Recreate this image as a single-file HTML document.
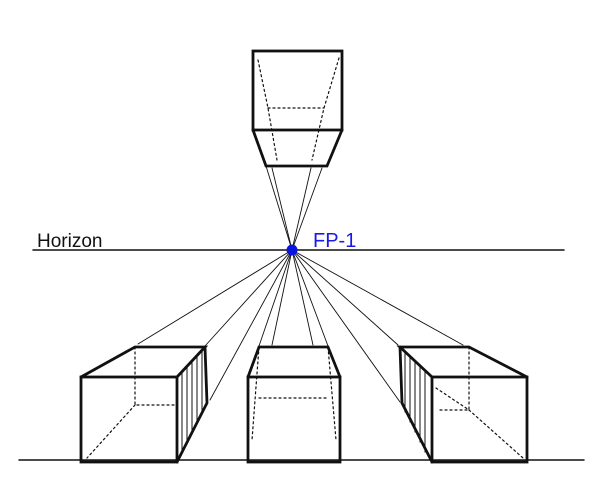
<!DOCTYPE html>
<html><head><style>body{margin:0;background:#fff}svg{display:block}</style></head><body>
<svg width="605" height="500" viewBox="0 0 605 500" xmlns="http://www.w3.org/2000/svg">
<rect width="605" height="500" fill="#fff"/>
<g stroke="#111" fill="none" stroke-linecap="round">
<line x1="33" y1="250" x2="564" y2="250" stroke-width="1.5"/>
<line x1="19" y1="460" x2="584" y2="460" stroke-width="1.5"/>
<g stroke-width="0.9">
<line x1="292" y1="250" x2="266" y2="166"/><line x1="292" y1="250" x2="272" y2="168"/>
<line x1="292" y1="250" x2="311" y2="168"/><line x1="292" y1="250" x2="322" y2="168"/>
<line x1="292" y1="250" x2="138" y2="344"/><line x1="292" y1="250" x2="205" y2="346"/>
<line x1="292" y1="250" x2="210" y2="400"/>
<line x1="292" y1="250" x2="259" y2="346"/><line x1="292" y1="250" x2="272" y2="345"/>
<line x1="292" y1="250" x2="328" y2="346"/><line x1="292" y1="250" x2="313" y2="345"/>
<line x1="292" y1="250" x2="398" y2="345"/><line x1="292" y1="250" x2="463" y2="345"/>
<line x1="292" y1="250" x2="400" y2="402"/>
</g>
<g stroke-width="2.8">
<rect x="253" y="51" width="89" height="79"/>
<polyline points="253,130 266,166 327,166 342,130"/>
</g>
<g stroke-width="1.2" stroke-dasharray="2,3">
<polyline points="258,60 268,108 277,160"/><polyline points="339,58 324,108 312,160"/>
<line x1="268" y1="108" x2="324" y2="108"/>
</g>
<g stroke-width="2.8">
<rect x="81" y="377" width="96" height="85"/>
<polyline points="81,377 135,347 205,347 177,377"/>
<polyline points="205,347 207,403 177,462"/>
</g>
<g stroke-width="1">
<line x1="182" y1="372" x2="182" y2="452"/><line x1="187" y1="366" x2="187" y2="442"/>
<line x1="192" y1="361" x2="192" y2="432"/><line x1="197" y1="355" x2="197" y2="422"/>
<line x1="202" y1="350" x2="202" y2="412"/>
</g>
<g stroke-width="1.2" stroke-dasharray="2,3">
<polyline points="135,347 135,405 177,405"/><line x1="135" y1="405" x2="87" y2="458"/>
</g>
<g stroke-width="2.8">
<rect x="248" y="377" width="92" height="85"/>
<polyline points="248,377 259,347 328,347 340,377"/>
</g>
<g stroke-width="1.2" stroke-dasharray="2,3">
<line x1="259" y1="347" x2="252" y2="440"/><line x1="328" y1="347" x2="336" y2="440"/>
<line x1="259" y1="398" x2="328" y2="398"/>
</g>
<g stroke-width="2.8">
<rect x="432" y="377" width="95" height="85"/>
<polyline points="432,377 400,347 469,347 527,377"/>
<polyline points="400,347 402,403 432,462"/>
</g>
<g stroke-width="1">
<line x1="405" y1="352" x2="405" y2="412"/><line x1="410" y1="357" x2="410" y2="422"/>
<line x1="415" y1="362" x2="415" y2="432"/><line x1="420" y1="366" x2="420" y2="442"/>
<line x1="425" y1="371" x2="425" y2="452"/>
</g>
<g stroke-width="1.2" stroke-dasharray="2,3">
<polyline points="469,347 469,410 437,410"/><line x1="469" y1="410" x2="523" y2="458"/>
<line x1="436" y1="388" x2="469" y2="410"/>
</g>
</g>
<circle cx="292" cy="250" r="5.5" fill="#0a14e0"/>
<text x="37" y="247" font-family="Liberation Sans, sans-serif" font-size="19" fill="#111">Horizon</text>
<text x="313" y="247" font-family="Liberation Sans, sans-serif" font-size="20" fill="#1a1ae8">FP-1</text>
</svg>
</body></html>
